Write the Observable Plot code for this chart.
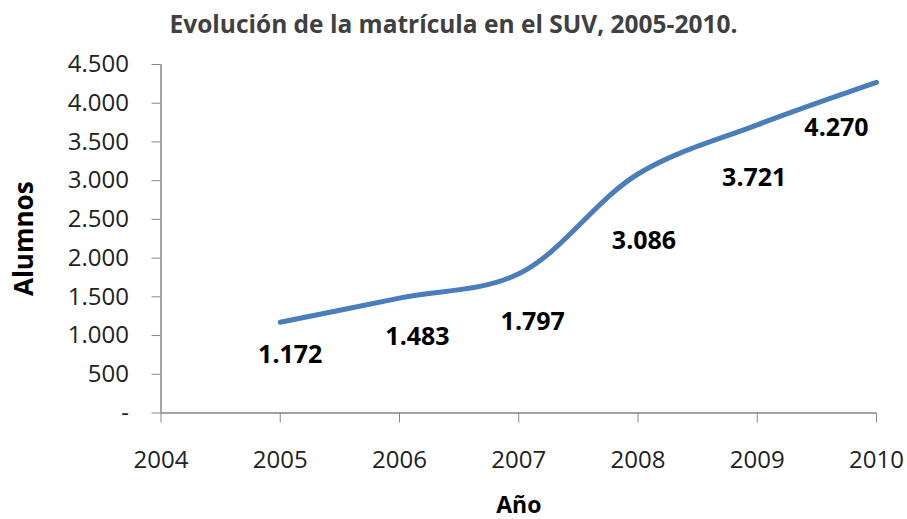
<!DOCTYPE html>
<html>
<head>
<meta charset="utf-8">
<script src="https://cdn.jsdelivr.net/npm/d3@7"></script>
<script src="https://cdn.jsdelivr.net/npm/@observablehq/plot@0.6"></script>
<style>
  body { margin: 0; background: #fff; }
  #title { height: 50px; width: 907px; text-align: center; font-family: "Open Sans", sans-serif; font-weight: 700; font-size: 24.5px; color: #404040; line-height: 48px; }
  #chart svg { display: block; overflow: visible; }
</style>
</head>
<body>
<div id="title">Evolución de la matrícula en el SUV, 2005-2010.</div>
<div id="chart"></div>
<script>
const years = [2005, 2006, 2007, 2008, 2009, 2010];
const alumnos = [1172, 1483, 1797, 3086, 3721, 4270];
const xTicks = [2004, 2005, 2006, 2007, 2008, 2009, 2010];
const yTicks = [0, 500, 1000, 1500, 2000, 2500, 3000, 3500, 4000, 4500];

const data = years.map((y, i) => ({year: y, value: alumnos[i]}));
const loc = d3.formatLocale({decimal: ",", thousands: ".", grouping: [3], currency: ["", ""]});
const fmt = loc.format(",d");
const yFmt = v => v === 0 ? "-" : fmt(v);

// label offsets (Excel-like placement)
const labelOffsets = [
  {dx: 10, dy: 33}, {dx: 18, dy: 39}, {dx: 14, dy: 48},
  {dx: 6, dy: 67}, {dx: -3, dy: 53}, {dx: -40, dy: 46}
];

const font = "Open Sans, sans-serif";
const chart = Plot.plot({
  width: 907,
  height: 469,
  marginTop: 14,
  marginBottom: 106.5,
  marginLeft: 160.5,
  marginRight: 31,
  style: {fontFamily: font, background: "#fff", overflow: "visible"},
  x: {domain: [2004, 2010]},
  y: {domain: [0, 4500]},
  marks: [
    Plot.ruleY([0], {stroke: "#868686", strokeWidth: 1.5, x1: 2004, x2: 2010}),
    Plot.axisY({ticks: yTicks, tickFormat: yFmt, tickSize: 9, tickPadding: 23, stroke: "#868686", fontSize: 24, fill: "#222", label: null}),
    Plot.ruleX([2004], {stroke: "#868686", strokeWidth: 1.5}),
    Plot.axisX({ticks: xTicks, tickFormat: d => String(d), tickSize: 10, tickPadding: 28, stroke: "#868686", fontSize: 24, fill: "#222", label: null}),
    Plot.line(data, {x: "year", y: "value", curve: "catmull-rom", stroke: "#4A7EBB", strokeWidth: 5, strokeLinecap: "round"}),
    ...data.map((d, i) => Plot.text([d], {x: "year", y: "value", text: d => fmt(d.value), dx: labelOffsets[i].dx, dy: labelOffsets[i].dy, fontSize: 25, fontWeight: "bold", fill: "#000"})),
    Plot.text(["Alumnos"], {frameAnchor: "left", textAnchor: "middle", dx: -136, rotate: -90, fontSize: 26, fontWeight: "bold", fill: "#000"}),
    Plot.text(["Año"], {frameAnchor: "bottom", dy: 100, fontSize: 23, fontWeight: "bold", fill: "#000"})
  ]
});
document.getElementById("chart").appendChild(chart);
</script>
</body>
</html>
